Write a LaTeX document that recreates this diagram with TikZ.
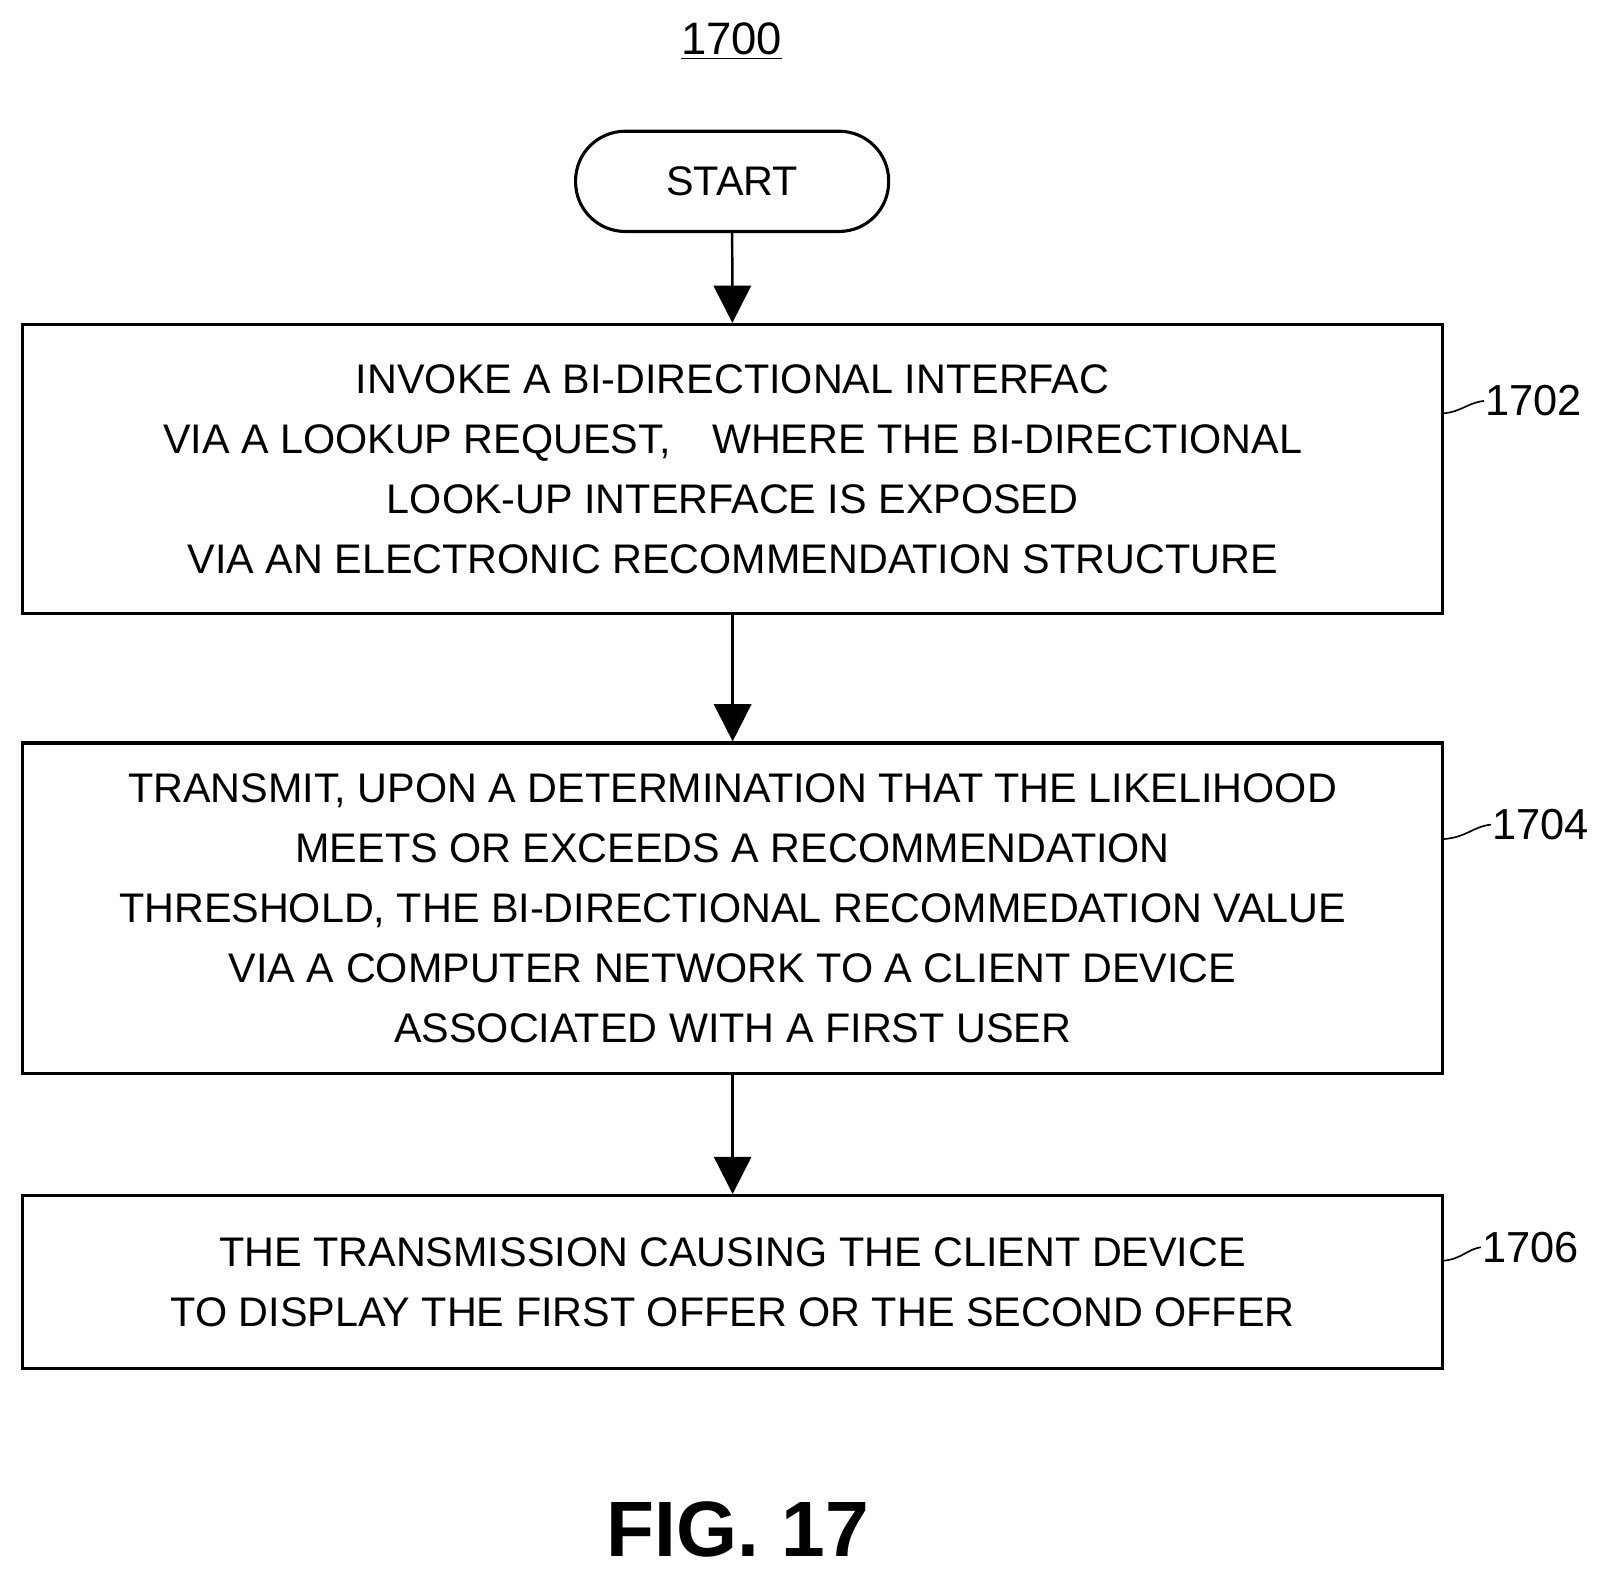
\documentclass[tikz,border=0pt]{standalone}
\usepackage{fontspec}
\setmainfont{Liberation Sans}
\usetikzlibrary{arrows.meta}
\tikzset{every picture/.style={line width=1.2pt}}
\begin{document}
\begin{tikzpicture}[x=0.5pt,y=0.5pt,yscale=-1,xscale=1,
  box/.style={draw,line width=1.5pt,inner sep=0pt,align=center,font=\fontsize{20}{29}\selectfont},
  flow/.style={-{Triangle[length=18pt,width=18pt]}},
  tag/.style={font=\fontsize{21}{25}\selectfont,anchor=west,inner sep=0pt}]
\useasboundingbox (0,0) rectangle (1560,1519);

% Title
\node (title) at (708,40) {\fontsize{22}{26}\selectfont\underline{1700}};

% Start
\node (start) [box,rounded corners=24pt,minimum width=151.5pt,minimum height=48.5pt] at (708.5,175.5) {START};

% Steps
\node (s1702) [box,minimum width=687pt,minimum height=140pt] at (709,454) {INVOKE A BI-DIRECTIONAL INTERFAC\\VIA A LOOKUP REQUEST,\quad WHERE THE BI-DIRECTIONAL\\LOOK-UP INTERFACE IS EXPOSED\\VIA AN ELECTRONIC RECOMMENDATION STRUCTURE};
\node (s1704) [box,minimum width=687pt,minimum height=160pt] at (709,879) {TRANSMIT, UPON A DETERMINATION THAT THE LIKELIHOOD\\MEETS OR EXCEEDS A RECOMMENDATION\\THRESHOLD, THE BI-DIRECTIONAL RECOMMEDATION VALUE\\VIA A COMPUTER NETWORK TO A CLIENT DEVICE\\ASSOCIATED WITH A FIRST USER};
\node (s1706) [box,minimum width=687pt,minimum height=83.5pt] at (709,1240.5) {THE TRANSMISSION CAUSING THE CLIENT DEVICE\\TO DISPLAY THE FIRST OFFER OR THE SECOND OFFER};

% Connectors
\draw [flow] (start) -- (s1702);
\draw [flow] (s1702) -- (s1704);
\draw [flow] (s1704) -- (s1706);

% Reference numerals
\node (n1702) [tag] at (1436,388) {1702};
\node (n1704) [tag] at (1443,798) {1704};
\node (n1706) [tag] at (1433,1207) {1706};
\draw [line width=0.8pt] (s1702.east |- 0,400) .. controls (1415,398) and (1420,390) .. (n1702.west);
\draw [line width=0.8pt] (s1704.east |- 0,812) .. controls (1420,810) and (1425,800) .. (n1704.west);
\draw [line width=0.8pt] (s1706.east |- 0,1220) .. controls (1415,1218) and (1420,1209) .. (n1706.west);

% Figure caption
\node (fig) at (714,1480) {\fontsize{38}{44}\selectfont\bfseries FIG. 17};
\end{tikzpicture}
\end{document}
